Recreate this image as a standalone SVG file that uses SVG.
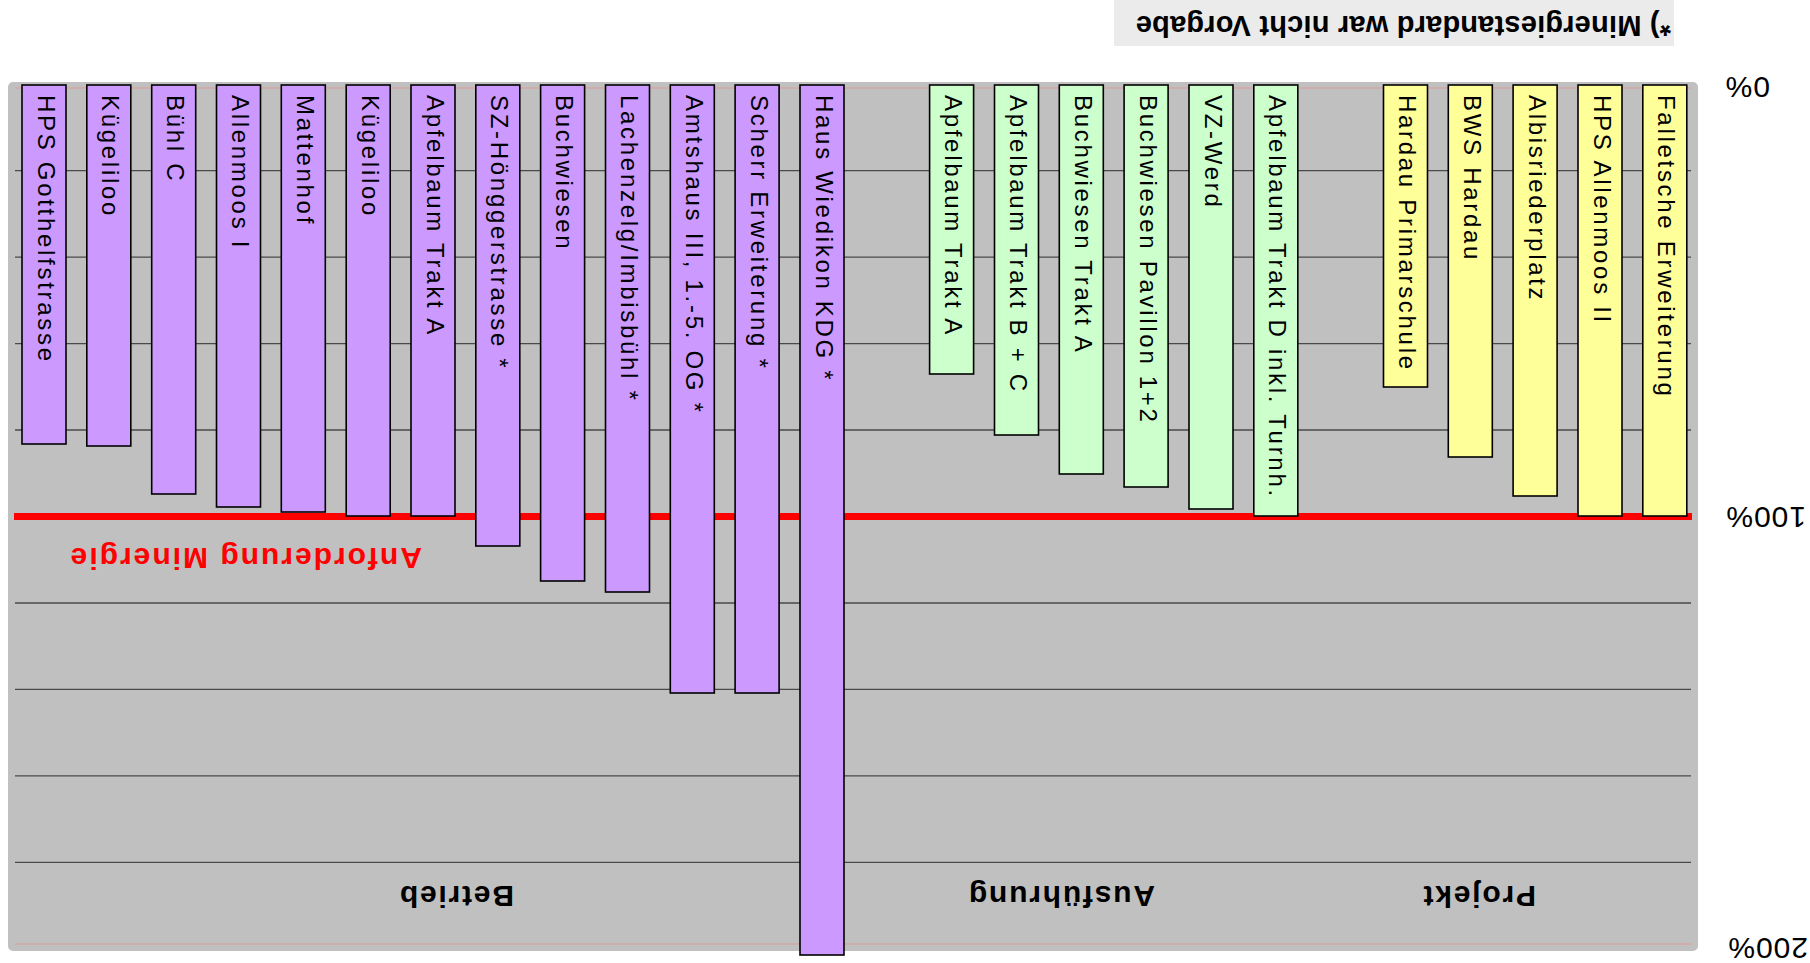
<svg xmlns="http://www.w3.org/2000/svg" width="1810" height="963" viewBox="0 0 1810 963">
<style>
.bg{fill:#c0c0c0}
.grid{stroke:#4a4a4a;stroke-width:1.3}
.pink{stroke:#e09a9a;stroke-width:1.2}
.bar{stroke:#000;stroke-width:1.6}
.p{fill:#cc99ff}
.g{fill:#ccffcc}
.y{fill:#ffff99}
.lbl{font-family:"Liberation Sans",Arial,sans-serif;font-size:24px;letter-spacing:2.7px;fill:#000}
.ax{font-family:"Liberation Sans",Arial,sans-serif;font-size:30px;letter-spacing:1px;fill:#000}
.cat{font-family:"Liberation Sans",Arial,sans-serif;font-size:30px;font-weight:bold;letter-spacing:1.8px;fill:#000}
.req{font-family:"Liberation Sans",Arial,sans-serif;font-size:30px;font-weight:bold;letter-spacing:2px;fill:#ff0000}
.note{font-family:"Liberation Sans",Arial,sans-serif;font-size:29px;font-weight:bold;letter-spacing:0.2px;fill:#000}
</style>
<g id="plot">
<rect class="bg" x="8" y="82" width="1690" height="869" rx="5"/>
<line class="grid" x1="15" y1="170.7" x2="1691" y2="170.7"/>
<line class="grid" x1="15" y1="257.2" x2="1691" y2="257.2"/>
<line class="grid" x1="15" y1="343.6" x2="1691" y2="343.6"/>
<line class="grid" x1="15" y1="430" x2="1691" y2="430"/>
<line class="grid" x1="15" y1="603" x2="1691" y2="603"/>
<line class="grid" x1="15" y1="689.4" x2="1691" y2="689.4"/>
<line class="grid" x1="15" y1="775.8" x2="1691" y2="775.8"/>
<line class="grid" x1="15" y1="862.3" x2="1691" y2="862.3"/>
<line class="pink" x1="15" y1="88" x2="1691" y2="88"/>
<line class="pink" x1="15" y1="944" x2="1691" y2="944"/>
</g>
<g id="anforderung">
<rect x="14" y="513" width="1678" height="7" fill="#ff0000"/>
<text class="req" transform="translate(422,548) rotate(180)">Anforderung Minergie</text>
</g>
<g id="bar-0"><rect class="bar p" x="22" y="85" width="44" height="359"/><text class="lbl" transform="translate(37.5,95) rotate(90)">HPS Gotthelfstrasse</text></g>
<g id="bar-1"><rect class="bar p" x="86.8" y="85" width="44" height="361"/><text class="lbl" transform="translate(102.3,95) rotate(90)">Kügeliloo</text></g>
<g id="bar-2"><rect class="bar p" x="151.7" y="85" width="44" height="409"/><text class="lbl" transform="translate(167.2,95) rotate(90)">Bühl C</text></g>
<g id="bar-3"><rect class="bar p" x="216.5" y="85" width="44" height="422"/><text class="lbl" transform="translate(232,95) rotate(90)">Allenmoos I</text></g>
<g id="bar-4"><rect class="bar p" x="281.3" y="85" width="44" height="427"/><text class="lbl" transform="translate(296.8,95) rotate(90)">Mattenhof</text></g>
<g id="bar-5"><rect class="bar p" x="346.2" y="85" width="44" height="431"/><text class="lbl" transform="translate(361.7,95) rotate(90)">Kügeliloo</text></g>
<g id="bar-6"><rect class="bar p" x="411" y="85" width="44" height="431"/><text class="lbl" transform="translate(426.5,95) rotate(90)">Apfelbaum Trakt A</text></g>
<g id="bar-7"><rect class="bar p" x="475.8" y="85" width="44" height="461"/><text class="lbl" transform="translate(491.3,95) rotate(90)">SZ-Hönggerstrasse *</text></g>
<g id="bar-8"><rect class="bar p" x="540.6" y="85" width="44" height="496"/><text class="lbl" transform="translate(556.1,95) rotate(90)">Buchwiesen</text></g>
<g id="bar-9"><rect class="bar p" x="605.5" y="85" width="44" height="507"/><text class="lbl" transform="translate(621,95) rotate(90)">Lachenzelg/Imbisbühl *</text></g>
<g id="bar-10"><rect class="bar p" x="670.3" y="85" width="44" height="608"/><text class="lbl" transform="translate(685.8,95) rotate(90)">Amtshaus III, 1.-5. OG *</text></g>
<g id="bar-11"><rect class="bar p" x="735.1" y="85" width="44" height="608"/><text class="lbl" transform="translate(750.6,95) rotate(90)">Scherr Erweiterung *</text></g>
<g id="bar-12"><rect class="bar p" x="800" y="85" width="44" height="870"/><text class="lbl" transform="translate(815.5,95) rotate(90)">Haus Wiedikon KDG *</text></g>
<g id="bar-14"><rect class="bar g" x="929.6" y="85" width="44" height="289"/><text class="lbl" transform="translate(945.1,95) rotate(90)">Apfelbaum Trakt A</text></g>
<g id="bar-15"><rect class="bar g" x="994.5" y="85" width="44" height="350"/><text class="lbl" transform="translate(1010,95) rotate(90)">Apfelbaum Trakt B + C</text></g>
<g id="bar-16"><rect class="bar g" x="1059.3" y="85" width="44" height="389"/><text class="lbl" transform="translate(1074.8,95) rotate(90)">Buchwiesen Trakt A</text></g>
<g id="bar-17"><rect class="bar g" x="1124.1" y="85" width="44" height="402"/><text class="lbl" transform="translate(1139.6,95) rotate(90)">Buchwiesen Pavillon 1+2</text></g>
<g id="bar-18"><rect class="bar g" x="1189" y="85" width="44" height="424"/><text class="lbl" transform="translate(1204.5,95) rotate(90)">VZ-Werd</text></g>
<g id="bar-19"><rect class="bar g" x="1253.8" y="85" width="44" height="431"/><text class="lbl" transform="translate(1269.3,95) rotate(90)">Apfelbaum Trakt D inkl. Turnh.</text></g>
<g id="bar-21"><rect class="bar y" x="1383.5" y="85" width="44" height="302"/><text class="lbl" transform="translate(1399,95) rotate(90)">Hardau Primarschule</text></g>
<g id="bar-22"><rect class="bar y" x="1448.3" y="85" width="44" height="372"/><text class="lbl" transform="translate(1463.8,95) rotate(90)">BWS Hardau</text></g>
<g id="bar-23"><rect class="bar y" x="1513.1" y="85" width="44" height="411"/><text class="lbl" transform="translate(1528.6,95) rotate(90)">Albisriederplatz</text></g>
<g id="bar-24"><rect class="bar y" x="1578" y="85" width="44" height="431"/><text class="lbl" transform="translate(1593.5,95) rotate(90)">HPS Allenmoos II</text></g>
<g id="bar-25"><rect class="bar y" x="1642.8" y="85" width="44" height="431"/><text class="lbl" transform="translate(1658.3,95) rotate(90)">Falletsche Erweiterung</text></g>
<g id="categories">
<text class="cat" transform="translate(514,886) rotate(180)">Betrieb</text>
<text class="cat" transform="translate(1155,886) rotate(180)">Ausführung</text>
<text class="cat" transform="translate(1536,886) rotate(180)">Projekt</text>
</g>
<g id="axis">
<text class="ax" transform="translate(1770,77) rotate(180)">0%</text>
<text class="ax" transform="translate(1806,507) rotate(180)">100%</text>
<text class="ax" transform="translate(1808,938) rotate(180)">200%</text>
</g>
<g id="note">
<rect x="1114" y="0" width="560" height="46" fill="#ebebeb"/>
<text class="note" transform="translate(1671,16) rotate(180)">*) Minergiestandard war nicht Vorgabe</text>
</g>
</svg>
